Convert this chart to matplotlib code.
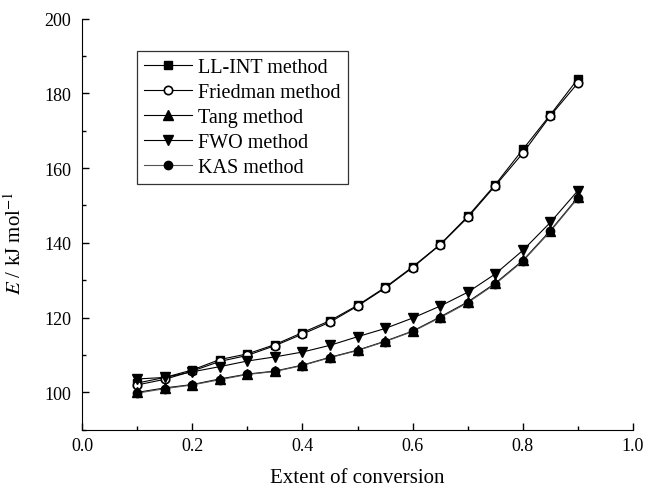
import matplotlib
matplotlib.use("Agg")
import matplotlib.pyplot as plt
from matplotlib.ticker import MultipleLocator
import numpy as np

# degré de conversion
alpha = [0.10, 0.15, 0.20, 0.25, 0.30, 0.35, 0.40, 0.45, 0.50,
         0.55, 0.60, 0.65, 0.70, 0.75, 0.80, 0.85, 0.90]

# énergies d'activation (kJ/mol)
e_llint = [102.5, 104.0, 106.0, 108.8, 110.3, 112.8, 116.0, 119.2, 123.3,
           128.1, 133.6, 139.6, 147.1, 155.6, 165.0, 174.3, 183.9]
e_friedman = [102.0, 103.5, 105.7, 108.3, 109.9, 112.5, 115.6, 118.8, 123.1,
              127.9, 133.4, 139.5, 146.8, 155.3, 164.0, 174.0, 182.8]
e_tang = [100.0, 101.2, 102.1, 103.6, 104.9, 105.7, 107.3, 109.4, 111.3,
          113.7, 116.4, 120.2, 124.2, 129.2, 135.3, 143.3, 152.2]
e_fwo = [103.6, 104.0, 105.5, 106.9, 108.4, 109.5, 110.8, 112.6, 114.9,
         117.1, 119.9, 123.1, 126.8, 131.7, 138.0, 145.5, 154.0]
e_kas = [99.8, 101.0, 102.0, 103.4, 104.8, 105.6, 107.2, 109.3, 111.2,
         113.6, 116.3, 120.0, 124.0, 129.0, 135.1, 143.1, 152.0]

labels = ["LL-INT method", "Friedman method", "Tang method", "FWO method", "KAS method"]

plt.rcParams['font.family'] = ['Liberation Serif', 'DejaVu Serif']
plt.rcParams['mathtext.fontset'] = 'stix'

fig = plt.figure(figsize=(6.46, 4.89), dpi=100)
ax = fig.add_axes([0.127, 0.119, 0.853, 0.841])

# tracer chaque série
ax.plot(alpha, e_llint, color='black', lw=0.8, marker='s', ms=6, mfc='black', label=labels[0])
ax.plot(alpha, e_friedman, color='black', lw=0.8, marker='o', ms=6, mfc='white', mew=1.2, label=labels[1])
ax.plot(alpha, e_tang, color='black', lw=0.8, marker='^', ms=7, mfc='black', label=labels[2])
ax.plot(alpha, e_fwo, color='black', lw=0.8, marker='v', ms=7, mfc='black', label=labels[3])
ax.plot(alpha, e_kas, color='#555555', lw=0.8, marker='o', ms=6, mfc='black', mec='black', label=labels[4])

ax.set_xlim(0.0, 1.0)
ax.set_ylim(90, 200)
ax.xaxis.set_minor_locator(MultipleLocator(0.1))
ax.yaxis.set_minor_locator(MultipleLocator(10))
ax.set_xticks([0.0, 0.2, 0.4, 0.6, 0.8, 1.0])
ax.set_xticklabels(["0.0", "0.2", "0.4", "0.6", "0.8", "1.0"])
ax.set_yticks([100, 120, 140, 160, 180, 200])

ax.spines['top'].set_visible(False)
ax.spines['right'].set_visible(False)
ax.tick_params(which='both', direction='in', labelsize=13, width=1)
ax.tick_params(which='major', length=5)
ax.tick_params(axis='x', which='major', pad=5)
ax.tick_params(axis='y', which='major', pad=8)
ax.tick_params(which='minor', length=3)

ax.set_xlabel("Extent of conversion", fontsize=15, labelpad=10)
ax.set_ylabel("$E$ / kJ mol$^{\\mathrm{-1}}$", fontsize=15)
ax.yaxis.set_label_coords(-0.102, 0.455)

leg = ax.legend(loc='upper left', bbox_to_anchor=(0.099, 0.922), fontsize=14.5,
                frameon=True, fancybox=False, edgecolor='black', handlelength=2.4,
                handletextpad=0.3, labelspacing=0.3, borderpad=0.35, borderaxespad=0)
leg.get_frame().set_linewidth(0.9)

fig.savefig("out.png", dpi=100)
